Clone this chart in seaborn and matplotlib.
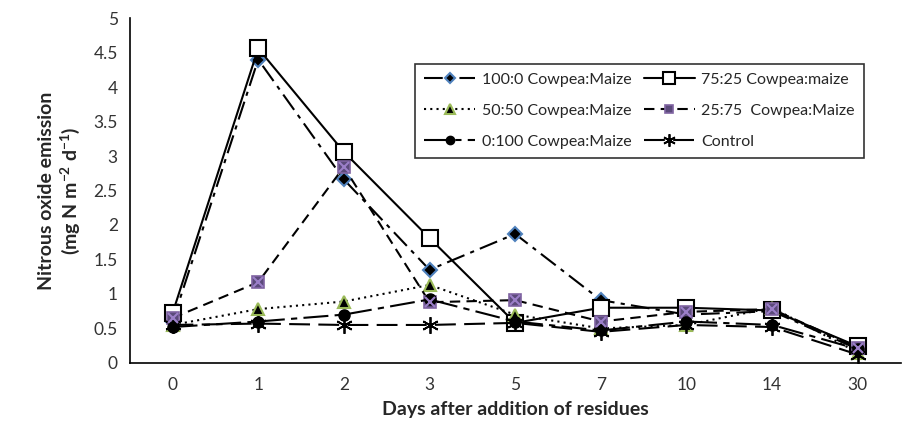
import pandas as pd
import numpy as np
import matplotlib
matplotlib.use('Agg')
import matplotlib.pyplot as plt
import seaborn as sns

days = ['0', '1', '2', '3', '5', '7', '10', '14', '30']

c100_0 = [0.60, 4.40, 2.66, 1.35, 1.87, 0.91, 0.70, 0.75, 0.20]
c75_25 = [0.72, 4.56, 3.06, 1.81, 0.58, 0.80, 0.80, 0.76, 0.24]
c50_50 = [0.55, 0.78, 0.89, 1.13, 0.70, 0.50, 0.55, 0.80, 0.15]
c25_75 = [0.65, 1.17, 2.84, 0.88, 0.91, 0.60, 0.74, 0.78, 0.22]
c0_100 = [0.52, 0.60, 0.70, 0.92, 0.60, 0.47, 0.60, 0.55, 0.20]
control = [0.55, 0.57, 0.55, 0.55, 0.58, 0.45, 0.55, 0.52, 0.12]

series_names = ['100:0 Cowpea:Maize', '75:25 Cowpea:maize',
                '50:50 Cowpea:Maize', '25:75  Cowpea:Maize',
                '0:100 Cowpea:Maize', 'Control']
series_values = [c100_0, c75_25, c50_50, c25_75, c0_100, control]

rows = []
for name, vals in zip(series_names, series_values):
    for i, (d, v) in enumerate(zip(days, vals)):
        rows.append({'series': name, 'pos': i, 'day': d, 'value': v})
df = pd.DataFrame(rows)

sns.set_style('white')
plt.rcParams['font.family'] = ['Lato', 'DejaVu Sans']
plt.rcParams['mathtext.fontset'] = 'custom'
plt.rcParams['mathtext.rm'] = 'Lato'
plt.rcParams['mathtext.bf'] = 'Lato:bold'

styles = {
    '100:0 Cowpea:Maize': dict(ls=(0, (9, 3, 2, 3)), marker='D', ms=7,
                               mfc='black', mec='#4f81bd', mew=1.5),
    '75:25 Cowpea:maize': dict(ls='-', marker='s', ms=11,
                               mfc='white', mec='black', mew=1.5),
    '50:50 Cowpea:Maize': dict(ls=(0, (1, 2)), marker='^', ms=9,
                               mfc='black', mec='#9bbb59', mew=1.5),
    '25:75  Cowpea:Maize': dict(ls=(0, (5, 3)), marker='s', ms=8,
                                mfc='#5b4a7a', mec='#8064a2', mew=1.2),
    '0:100 Cowpea:Maize': dict(ls=(0, (12, 3, 3, 3)), marker='o', ms=8,
                               mfc='black', mec='black', mew=1),
    'Control': dict(ls=(0, (10, 4)), marker=(6, 2, 0), ms=12,
                    mfc='black', mec='black', mew=1.3),
}

fig = plt.figure(figsize=(9.07, 4.32), dpi=100)
ax = fig.add_axes([0.143, 0.160, 0.85, 0.798])

for name in series_names:
    sub = df[df['series'] == name]
    st = styles[name]
    sns.lineplot(data=sub, x='pos', y='value', ax=ax, color='black',
                 lw=1.5, linestyle=st['ls'], marker=st['marker'],
                 markersize=st['ms'], markerfacecolor=st['mfc'],
                 markeredgecolor=st['mec'], markeredgewidth=st['mew'],
                 label=name, legend=False)
    if name.startswith('25:75'):
        ax.plot(sub['pos'], sub['value'], ls='none', marker='x', ms=7,
                mec='#9b7fc8', mew=1.5, zorder=4)

ax.set_xlim(-0.5, len(days) - 0.5)
ax.set_ylim(0, 5)
ax.set_yticks(np.arange(0, 5.01, 0.5))
ax.set_yticklabels(['0', '0.5', '1', '1.5', '2', '2.5', '3', '3.5', '4', '4.5', '5'])
ax.set_xticks(range(len(days)))
ax.set_xticklabels(days)
ax.set_xticks(np.arange(0.5, len(days) - 0.5, 1), minor=True)
ax.tick_params(axis='x', which='major', length=0, labelsize=12.5, pad=10, colors='#333333')
ax.tick_params(axis='x', which='minor', length=5, width=1.2, direction='out', color='black')
ax.tick_params(axis='y', length=5, width=1.2, direction='out', labelsize=12.5, colors='#333333')
ax.tick_params(axis='y', color='black')

for s in ['top', 'right']:
    ax.spines[s].set_visible(False)
for s in ['left', 'bottom']:
    ax.spines[s].set_color('black')
    ax.spines[s].set_linewidth(1.2)

ax.set_xlabel('Days after addition of residues', fontsize=14, fontweight='bold', labelpad=6)
ax.set_ylabel('Nitrous oxide emission\n(mg N m$^{\\mathbf{-2}}$ d$^{\\mathbf{-1}}$)',
              fontsize=14, fontweight='bold', labelpad=8)

handles, labels = ax.get_legend_handles_labels()
order = [0, 2, 4, 1, 3, 5]
leg = ax.legend([handles[i] for i in order], [labels[i] for i in order],
                ncol=2, loc='upper left',
                bbox_to_anchor=(0.36, 0.89), frameon=True, fancybox=False,
                edgecolor='black', fontsize=11.5, handlelength=3.2,
                columnspacing=0.8, labelspacing=1.05, handletextpad=0.4,
                borderpad=0.55, markerscale=0.75)
leg.get_frame().set_linewidth(1.2)

fig.savefig('out.png', dpi=100)
